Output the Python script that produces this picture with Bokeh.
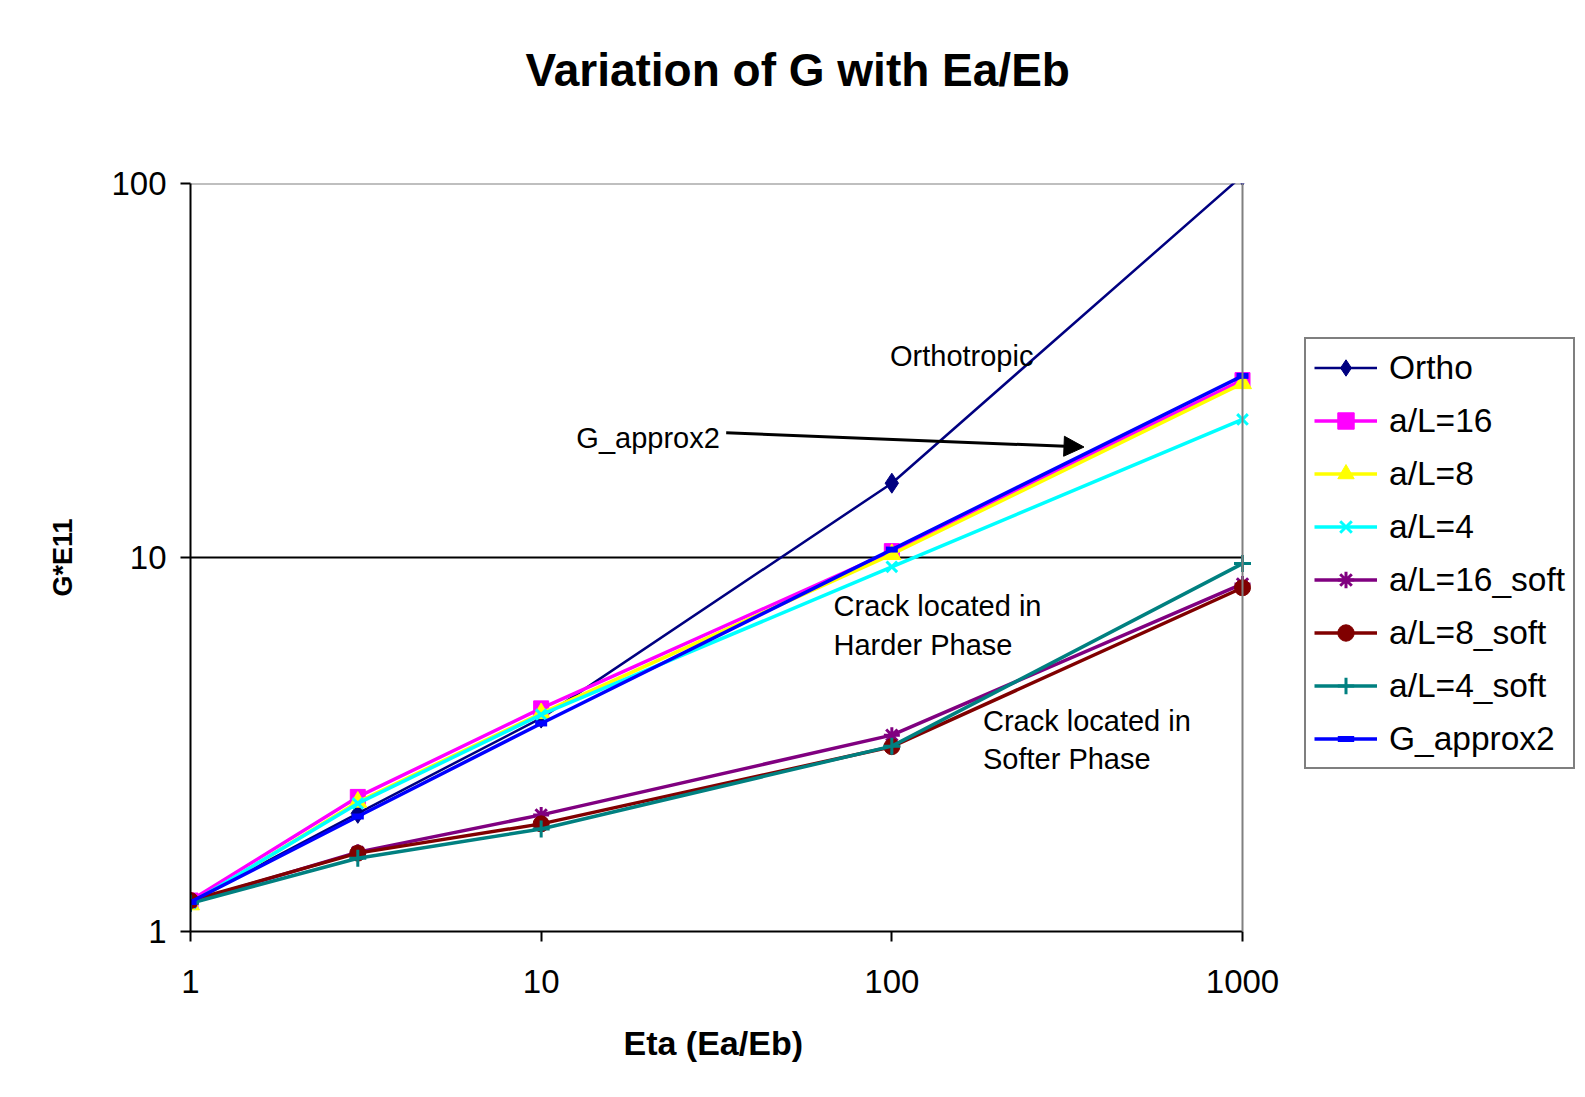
import math
from bokeh.plotting import figure
from bokeh.models import (Range1d, FixedTicker, PrintfTickFormatter, Legend, LegendItem,
                          Label, Arrow, NormalHead, Span)
from bokeh.embed import file_html
from bokeh.resources import INLINE

# ---------------- data ----------------
eta = [1, 3, 10, 100, 1000]
ortho = [1.2, 2.07, 3.72, 15.8, 105]
al16 = [1.21, 2.29, 3.95, 10.4, 29.8]
al8 = [1.18, 2.22, 3.83, 10.2, 29.2]
al4 = [1.19, 2.20, 3.80, 9.44, 23.4]
al16_soft = [1.2, 1.63, 2.05, 3.35, 8.5]
al8_soft = [1.21, 1.62, 1.94, 3.12, 8.3]
al4_soft = [1.19, 1.57, 1.88, 3.13, 9.63]
g_approx2 = [1.2, 2.03, 3.60, 10.5, 30.6]

series_names = ["Ortho", "a/L=16", "a/L=8", "a/L=4", "a/L=16_soft", "a/L=8_soft", "a/L=4_soft", "G_approx2"]
x_ticks = [1, 10, 100, 1000]
y_ticks = [1, 10, 100]

FONT = "Liberation Sans"

# layout geometry (pixels)
W, H = 1585, 1097
LEFT, TOP, BOTTOM = 190, 183, 166
PLOT_RIGHT = 1242          # where x = 1000 sits; the frame continues to the canvas edge for the legend
x_max = 10 ** (math.log10(x_ticks[-1]) * (W - LEFT) / (PLOT_RIGHT - LEFT))

p = figure(width=W, height=H, output_backend="svg", toolbar_location=None,
           x_axis_type="log", y_axis_type="log",
           x_range=Range1d(x_ticks[0], x_max), y_range=Range1d(y_ticks[0], y_ticks[-1]),
           min_border_left=LEFT, min_border_right=0, min_border_top=TOP, min_border_bottom=BOTTOM,
           background_fill_color="white", border_fill_color="white",
           title="Variation of G with Ea/Eb\n\u00a0")

p.title.align = "left"
p.title.offset = 335
p.title.standoff = 72
p.title.text_font = FONT
p.title.text_font_size = "46px"
p.title.text_font_style = "bold"
p.title.text_color = "black"

p.outline_line_color = None

# axes
for ax in (p.xaxis[0], p.yaxis[0]):
    ax.axis_line_color = "black"
    ax.axis_line_width = 2
    ax.major_tick_line_color = "black"
    ax.major_tick_line_width = 2
    ax.major_tick_out = 10
    ax.major_tick_in = 0
    ax.minor_tick_line_color = None
    ax.major_label_text_font = FONT
    ax.major_label_text_font_size = "33px"
    ax.major_label_text_color = "black"
    ax.axis_label_text_font = FONT
    ax.axis_label_text_font_style = "bold"
    ax.axis_label_text_color = "black"
    ax.formatter = PrintfTickFormatter(format="%d")

p.xaxis[0].ticker = FixedTicker(ticks=x_ticks)
p.yaxis[0].ticker = FixedTicker(ticks=y_ticks)
p.xaxis[0].bounds = (x_ticks[0], x_ticks[-1])
# trailing no-break spaces keep the label centred under the plotted decades
p.xaxis[0].axis_label = "Eta (Ea/Eb)" + "\u00a0" * 37
p.yaxis[0].axis_label = "G*E11"
p.xaxis[0].axis_label_text_font_size = "34px"
p.yaxis[0].axis_label_text_font_size = "27px"
p.xaxis[0].major_label_standoff = 28
p.yaxis[0].major_label_standoff = 14
p.xaxis[0].axis_label_standoff = 28
p.yaxis[0].axis_label_standoff = 30

p.xgrid.grid_line_color = None
p.ygrid.grid_line_color = None

# plot-area border (gray, top and right) and the major gridline at 10 (black)
p.segment(x0=[x_ticks[0]] * 2, x1=[x_ticks[-1]] * 2, y0=y_ticks[1:], y1=y_ticks[1:],
          line_color=["black", "#808080"], line_width=2)
p.add_layout(Span(location=x_ticks[-1], dimension="height", line_color="#808080", line_width=2))

# ---------------- series ----------------
ys = [ortho, al16, al8, al4, al16_soft, al8_soft, al4_soft, g_approx2]
colors = ["#000080", "#FF00FF", "#FFFF00", "#00FFFF", "#800080", "#800000", "#008080", "#0000FF"]
markers = ["diamond", "square", "triangle", "x", "asterisk", "circle", "cross", "dash"]
msizes = [20, 15, 18, 15, 16, 16, 17, 12]
lwidths = [2.5, 3.5, 3.5, 3.5, 3.5, 3.5, 3.5, 3.5]

items = []
for name, y, c, m, ms, lw in zip(series_names, ys, colors, markers, msizes, lwidths):
    r1 = p.line(eta, y, line_color=c, line_width=lw)
    if m in ("x", "asterisk", "cross"):
        r2 = p.scatter(eta, y, marker=m, size=ms, line_color=c, line_width=3)
    elif m == "dash":
        r2 = p.scatter(eta, y, marker=m, size=ms, line_color=c, line_width=6)
    else:
        r2 = p.scatter(eta, y, marker=m, size=ms, fill_color=c, line_color=c)
    items.append(LegendItem(label=name, renderers=[r1, r2]))

legend = Legend(items=items, location=(1114, 162),
                label_text_font=FONT, label_text_font_size="33.5px", label_text_color="black",
                glyph_width=63, glyph_height=41, label_height=41, spacing=12,
                padding=8, margin=0, label_standoff=12,
                border_line_color="black", border_line_width=2,
                background_fill_color="white", background_fill_alpha=1.0)
p.add_layout(legend, "center")

# ---------------- annotations ----------------
ann = dict(text_font=FONT, text_font_size="29px", text_color="black", text_baseline="alphabetic")
p.add_layout(Label(x=98.8, y=34.5, text="Orthotropic", **ann))
p.add_layout(Label(x=12.6, y=20.9, text="G_approx2", **ann))
p.add_layout(Label(x=68.2, y=7.40, text="Crack located in", **ann))
p.add_layout(Label(x=68.2, y=5.82, text="Harder Phase", **ann))
p.add_layout(Label(x=181.9, y=3.65, text="Crack located in", **ann))
p.add_layout(Label(x=181.9, y=2.90, text="Softer Phase", **ann))
p.add_layout(Arrow(x_start=33.7, y_start=21.55, x_end=353.2, y_end=19.74,
                   line_color="black", line_width=3,
                   end=NormalHead(size=20, fill_color="black", line_color="black")))

open("out.html", "w").write(file_html(p, INLINE))
